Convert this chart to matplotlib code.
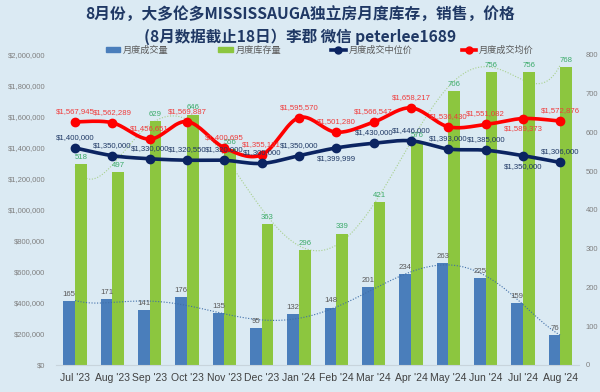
import numpy as np
import matplotlib
matplotlib.use('Agg')
import matplotlib.pyplot as plt
from matplotlib.ticker import FuncFormatter
from matplotlib.lines import Line2D
from matplotlib.patches import Patch

# Data
months = ["Jul '23", "Aug '23", "Sep '23", "Oct '23", "Nov '23", "Dec '23", "Jan '24",
          "Feb '24", "Mar '24", "Apr '24", "May '24", "Jun '24", "Jul '24", "Aug '24"]
sales = [165, 171, 141, 176, 135, 95, 132, 148, 201, 234, 263, 225, 159, 76]
inventory = [518, 497, 629, 646, 556, 363, 296, 339, 421, 576, 706, 756, 756, 768]
median_price = [1400000, 1350000, 1330000, 1320550, 1320000, 1300000, 1350000,
                1399999, 1430000, 1446000, 1393000, 1385000, 1350000, 1306000]
avg_price = [1567945, 1562289, 1456651, 1569887, 1400695, 1355121, 1595570,
             1501280, 1566547, 1658217, 1536430, 1551082, 1589373, 1572876]

# label placement (1 = above, -1 = below)
median_pos = [1, 1, 1, 1, 1, 1, 1, -1, 1, 1, 1, 1, -1, 1]
avg_pos = [1, 1, 1, 1, 1, 1, 1, 1, 1, 1, 1, 1, -1, 1]

BG = '#dbeaf3'
C_SALES = '#4a7ebb'
C_INV = '#8cc63f'
C_MED = '#0b2461'
C_AVG = '#ff0000'

plt.rcParams['font.family'] = ['Liberation Sans', 'Noto Sans CJK SC', 'DejaVu Sans']


def smooth(xs, ys, n=20):
    # Excel-like smoothed line (cubic bezier, tension 1/6)
    xs = np.asarray(xs, float)
    ys = np.asarray(ys, float)
    pts = np.column_stack([xs, ys])
    out = []
    for i in range(len(pts) - 1):
        p0 = pts[max(i - 1, 0)]
        p1 = pts[i]
        p2 = pts[i + 1]
        p3 = pts[min(i + 2, len(pts) - 1)]
        c1 = p1 + (p2 - p0) / 6
        c2 = p2 - (p3 - p1) / 6
        t = np.linspace(0, 1, n)[:, None]
        seg = ((1 - t) ** 3) * p1 + 3 * ((1 - t) ** 2) * t * c1 + 3 * (1 - t) * t ** 2 * c2 + t ** 3 * p2
        out.append(seg if i == 0 else seg[1:])
    out = np.vstack(out)
    return out[:, 0], out[:, 1]


fig = plt.figure(figsize=(6, 3.92), dpi=100)
fig.patch.set_facecolor(BG)
ax = fig.add_axes([0.094, 0.069, 0.871, 0.791])
ax.set_facecolor(BG)
ax2 = ax.twinx()

x = np.arange(len(months))
w = 0.31

# bars on the right axis
ax2.bar(x - w, sales, w, align='edge', color=C_SALES, zorder=2)
ax2.bar(x, inventory, w, align='edge', color=C_INV, zorder=2)

# trendlines (polynomial)
xf = np.linspace(0, len(months) - 1, 300)
ps = np.polyfit(x, sales, 6)
ax2.plot(xf, np.polyval(ps, xf), ls=(0, (1, 1.5)), color='#3f6ea8', lw=0.8, zorder=3)
pi = np.polyfit(x, inventory, 6)
ax2.plot(xf, np.polyval(pi, xf), ls=(0, (1, 1.5)), color='#a8d08d', lw=0.8, zorder=1)

for xi, v in zip(x, sales):
    ax2.text(xi - w / 2, v + 8, str(v), ha='center', va='bottom', fontsize=5.6, color='#595959', zorder=5)
for xi, v in zip(x, inventory):
    ax2.text(xi + w / 2, v + 8, str(v), ha='center', va='bottom', fontsize=5.6, color='#3cab6a', zorder=5)

ax2.set_ylim(0, 800)
ax2.set_yticks(np.arange(0, 801, 100))

# price lines on the left axis, drawn above the bars
ax.set_zorder(ax2.get_zorder() + 1)
ax.patch.set_visible(False)
sx, sy = smooth(x, avg_price)
ax.plot(sx, sy, color=C_AVG, lw=2.6, zorder=4)
ax.plot(x, avg_price, 'o', color=C_AVG, ms=6, zorder=4)
sx, sy = smooth(x, median_price)
ax.plot(sx, sy, color=C_MED, lw=2.6, zorder=5)
ax.plot(x, median_price, 'o', color=C_MED, ms=6, zorder=5)

for xi, v, p in zip(x, avg_price, avg_pos):
    ax.annotate(f'${v:,}', (xi, v), xytext=(0, 5 * p), textcoords='offset points',
                ha='center', va='bottom' if p > 0 else 'top', fontsize=5.6, color='#f03c3c', zorder=6)
for xi, v, p in zip(x, median_price, median_pos):
    ax.annotate(f'${v:,}', (xi, v), xytext=(0, 5 * p), textcoords='offset points',
                ha='center', va='bottom' if p > 0 else 'top', fontsize=5.6, color='#1f3864', zorder=6)

ax.set_ylim(0, 2000000)
ax.set_yticks(np.arange(0, 2000001, 200000))
ax.yaxis.set_major_formatter(FuncFormatter(lambda v, _: f'${v:,.0f}'))
ax.set_xlim(-0.5, len(months) - 0.5)
ax.set_xticks(x)
ax.set_xticklabels(months)

for a in (ax, ax2):
    for s in a.spines.values():
        s.set_visible(False)
    a.tick_params(length=0)
ax.spines['bottom'].set_visible(True)
ax.spines['bottom'].set_color('#c8d4dc')
ax.tick_params(axis='x', labelsize=7.5, labelcolor='#404040', pad=6)
ax.tick_params(axis='y', labelsize=5.5, labelcolor='#808080', pad=8)
ax2.tick_params(axis='y', labelsize=5.5, labelcolor='#808080', pad=5)

# title
fig.text(0.5, 0.961, '8月份，大多伦多MISSISSAUGA独立房月度库存，销售，价格',
         ha='center', va='center', fontsize=11.3, fontweight='bold', color='#1f3864',
         family=['Noto Sans CJK SC', 'DejaVu Sans'])
fig.text(0.5, 0.907, '(8月数据截止18日）李郡 微信 peterlee1689',
         ha='center', va='center', fontsize=11.2, fontweight='bold', color='#1f3864',
         family=['Noto Sans CJK SC', 'DejaVu Sans'])

handles = [Patch(color=C_SALES), Patch(color=C_INV),
           Line2D([], [], color=C_MED, lw=2.6, marker='o', ms=5),
           Line2D([], [], color=C_AVG, lw=2.6, marker='o', ms=5)]
labels = ['月度成交量', '月度库存量', '月度成交中位价', '月度成交均价']
leg = fig.legend(handles, labels, loc='center', bbox_to_anchor=(0.533, 0.872), ncol=4,
                 frameon=False, columnspacing=5.4, handlelength=1.6,
                 handleheight=0.45, handletextpad=0.3, borderpad=0.1,
                 prop={'family': ['Noto Sans CJK SC', 'DejaVu Sans'], 'size': 6.6})
for t in leg.get_texts():
    t.set_color('#595959')

fig.savefig('out.png', dpi=100, facecolor=BG)
